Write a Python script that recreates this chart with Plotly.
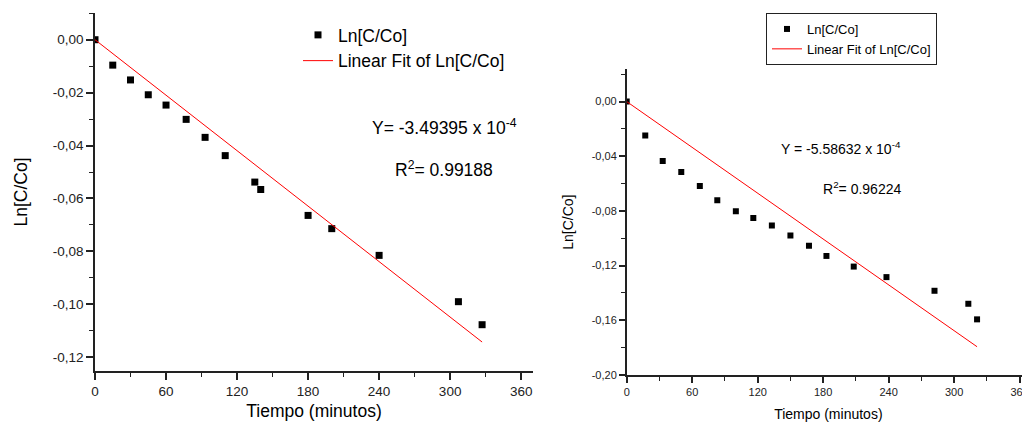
import plotly.graph_objects as go

# ---------------- data ----------------
# Left chart
t1 = [0, 15, 30, 45, 60, 77, 93, 110, 135, 140, 180, 200, 240, 307, 327]
y1 = [0.0, -0.0096, -0.0152, -0.0208, -0.0247, -0.0301, -0.0369, -0.0438,
      -0.0538, -0.0566, -0.0664, -0.0714, -0.0815, -0.0990, -0.1077]
slope1 = -3.49395e-4
r2_1 = 0.99188

# Right chart
t2 = [0, 17, 33, 50, 67, 83, 100, 116, 133, 150, 167, 183, 208, 238, 282, 313, 321]
y2 = [0.0, -0.0249, -0.0434, -0.0516, -0.0618, -0.0722, -0.0802, -0.0851,
      -0.0906, -0.0979, -0.1055, -0.1129, -0.1207, -0.1284, -0.1384, -0.1479, -0.1593]
slope2 = -5.58632e-4
r2_2 = 0.96224

x_ticks = [0, 60, 120, 180, 240, 300, 360]
x_ticktext = ["0", "60", "120", "180", "240", "300", "360"]
y1_ticks = [0.0, -0.02, -0.04, -0.06, -0.08, -0.10, -0.12]
y1_ticktext = ["0,00", "-0,02", "-0,04", "-0,06", "-0,08", "-0,10", "-0,12"]
y2_ticks = [0.0, -0.04, -0.08, -0.12, -0.16, -0.20]
y2_ticktext = ["0,00", "-0,04", "-0,08", "-0,12", "-0,16", "-0,20"]

series_name = "Ln[C/Co]"
fit_name = "Linear Fit of Ln[C/Co]"
x_title = "Tiempo (minutos)"
y_title = "Ln[C/Co]"

# fitted lines (through origin, over the sampled time span)
fit1_x = [t1[0], t1[-1]]
fit1_y = [slope1 * v for v in fit1_x]
fit2_x = [t2[0], t2[-1]]
fit2_y = [slope2 * v for v in fit2_x]

FONT = "Arial, Liberation Sans, sans-serif"
AX = "#222222"
# page has an 8px body margin; the figure is sized to fill the rest of the window
OFF = 8
W, H = 1030 - OFF, 426 - OFF


def px(xp):  # page x -> paper fraction
    return (xp - OFF) / W


def py(yp):  # page y (from top) -> paper fraction
    return 1 - (yp - OFF) / H


fig = go.Figure()
fig.add_trace(go.Scatter(x=t1, y=y1, mode="markers", name=series_name,
                         marker=dict(symbol="square", size=7, color="black"),
                         xaxis="x", yaxis="y", legend="legend"))
fig.add_trace(go.Scatter(x=fit1_x, y=fit1_y, mode="lines", name=fit_name,
                         line=dict(color="#ff0000", width=1),
                         xaxis="x", yaxis="y", legend="legend"))
fig.add_trace(go.Scatter(x=t2, y=y2, mode="markers", name=series_name,
                         marker=dict(symbol="square", size=6, color="black"),
                         xaxis="x2", yaxis="y2", legend="legend2"))
fig.add_trace(go.Scatter(x=fit2_x, y=fit2_y, mode="lines", name=fit_name,
                         line=dict(color="#ff0000", width=1),
                         xaxis="x2", yaxis="y2", legend="legend2"))


def axis(domain, rng, tickvals, ticktext, minor_dtick, tickfont, anchor,
         title, title_size, standoff, ticklen):
    return dict(
        domain=domain, range=rng, anchor=anchor, automargin=False,
        showline=True, linecolor=AX, linewidth=1.5,
        ticks="outside", ticklen=ticklen, tickwidth=1.5, tickcolor=AX,
        tickvals=tickvals, ticktext=ticktext,
        tickfont=dict(family=FONT, size=tickfont, color=AX),
        minor=dict(ticks="outside", ticklen=4, tickwidth=1.2, tickcolor=AX,
                   dtick=minor_dtick, tick0=0, showgrid=False),
        showgrid=False, zeroline=False,
        title=dict(text=title, font=dict(family=FONT, size=title_size, color="black"),
                   standoff=standoff),
    )


fig.update_layout(
    width=W, height=H,
    margin=dict(l=0, r=0, t=0, b=0, autoexpand=False),
    paper_bgcolor="white", plot_bgcolor="white",
    font=dict(family=FONT, color="black"),
    xaxis=axis([px(95), px(533)], [0, 370], x_ticks, x_ticktext, 30, 13.5, "y",
               x_title, 17.5, 7, 7),
    yaxis=axis([py(371), py(13)], [-0.1252, 0.0101], y1_ticks, y1_ticktext, 0.01, 13.5, "x",
               y_title, 17.5, 21, 7),
    xaxis2=axis([px(626.7), 1.0], [0, 369.5], x_ticks, x_ticktext, 30, 11, "y2",
                x_title, 14, 12, 6),
    yaxis2=axis([py(375), py(69.3)], [-0.20, 0.0236], y2_ticks, y2_ticktext, 0.02, 11, "x2",
                y_title, 14, 15, 6),
    legend=dict(x=px(298), y=py(17), xanchor="left", yanchor="top",
                bgcolor="rgba(0,0,0,0)", borderwidth=0,
                font=dict(family=FONT, size=17.5, color="black"), tracegroupgap=0),
    legend2=dict(x=px(766), y=py(13), xanchor="left", yanchor="top",
                 bgcolor="white", bordercolor=AX, borderwidth=1,
                 font=dict(family=FONT, size=13, color="black"), tracegroupgap=0),
    annotations=[
        dict(xref="paper", yref="paper", x=px(444), y=py(114), showarrow=False,
             text=f"Y= {slope1 * 1e4:.5f} x 10<sup>-4</sup>",
             font=dict(family=FONT, size=17.5, color="black")),
        dict(xref="paper", yref="paper", x=px(443.5), y=py(169), showarrow=False,
             text=f"R<sup>2</sup>= {r2_1:.5f}",
             font=dict(family=FONT, size=17.5, color="black")),
        dict(xref="paper", yref="paper", x=px(903), y=py(137), showarrow=False,
             text=f"Y = {slope2 * 1e4:.5f} x 10<sup>-4</sup>",
             font=dict(family=FONT, size=14, color="black")),
        dict(xref="paper", yref="paper", x=px(903), y=py(188), showarrow=False,
             text=f"R<sup>2</sup>= {r2_2:.5f}",
             font=dict(family=FONT, size=14, color="black")),
    ],
)

fig.write_html("out.html")
